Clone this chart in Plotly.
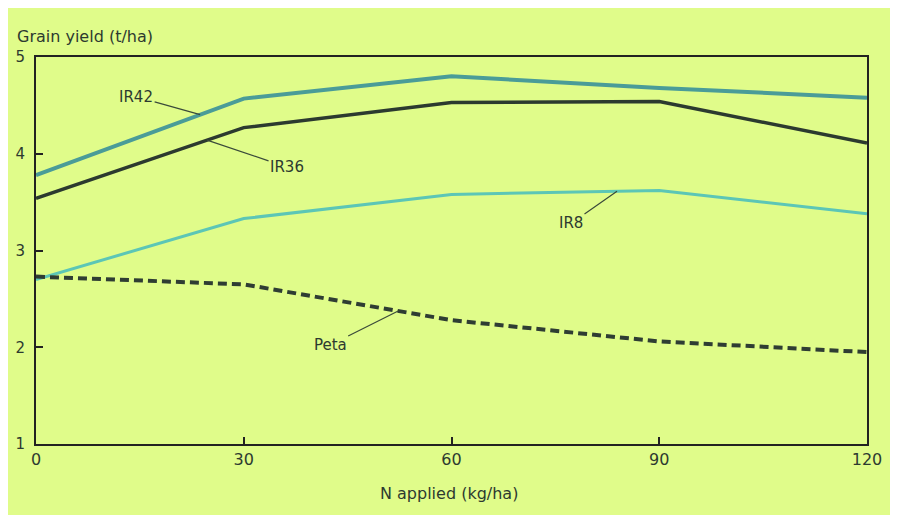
import plotly.graph_objects as go

n_applied = [0, 30, 60, 90, 120]
ir42 = [3.78, 4.57, 4.80, 4.68, 4.58]
ir36 = [3.54, 4.27, 4.53, 4.54, 4.11]
ir8 = [2.70, 3.33, 3.58, 3.62, 3.38]
peta = [2.73, 2.65, 2.28, 2.06, 1.95]

x_ticks = [0, 30, 60, 90, 120]
y_ticks = [1, 2, 3, 4, 5]

BG = "#e0fc8a"
TXT = "#2d3a30"
FONT = "'DejaVu Sans', sans-serif"

fig = go.Figure()
fig.add_trace(go.Scatter(x=n_applied, y=ir42, mode="lines", name="IR42",
                         line=dict(color="#4a9c98", width=4)))
fig.add_trace(go.Scatter(x=n_applied, y=ir36, mode="lines", name="IR36",
                         line=dict(color="#2c3a2f", width=3.5)))
fig.add_trace(go.Scatter(x=n_applied, y=ir8, mode="lines", name="IR8",
                         line=dict(color="#5cc6b6", width=3)))
fig.add_trace(go.Scatter(x=n_applied, y=peta, mode="lines", name="Peta",
                         line=dict(color="#2f3d33", width=4, dash="9px,5px")))


def label(text, x, y, ax, ay):
    fig.add_annotation(x=x, y=y, text=text, showarrow=True, arrowhead=0,
                       arrowwidth=1.2, arrowcolor="#3a4a3a", ax=ax, ay=ay,
                       font=dict(size=15, color=TXT, family=FONT))


def interp(xs, ys, x):
    for i in range(len(xs) - 1):
        if xs[i] <= x <= xs[i + 1]:
            t = (x - xs[i]) / (xs[i + 1] - xs[i])
            return ys[i] + t * (ys[i + 1] - ys[i])
    return ys[-1]


label("IR42", 23.7, interp(n_applied, ir42, 23.7), -64, -18)
label("IR36", 24.7, interp(n_applied, ir36, 24.7), 80, 27)
label("IR8", 83.9, interp(n_applied, ir8, 83.9), -46, 32)
label("Peta", 52.3, interp(n_applied, peta, 52.3), -68, 34)

fig.add_annotation(xref="paper", yref="paper", x=-0.025, y=1.052,
                   xanchor="left", yanchor="middle", showarrow=False,
                   text="Grain yield (t/ha)",
                   font=dict(size=16, color=TXT, family=FONT))
fig.add_annotation(xref="paper", yref="paper", x=0.497, y=-0.129,
                   xanchor="center", yanchor="middle", showarrow=False,
                   text="N applied (kg/ha)",
                   font=dict(size=16, color=TXT, family=FONT))

fig.update_xaxes(range=[0, 120], tickvals=x_ticks, ticks="inside", ticklen=7,
                 tickcolor="#222", tickwidth=1.5, showgrid=False, zeroline=False,
                 showline=True, linecolor="#222", linewidth=2, mirror=True,
                 automargin=False,
                 tickfont=dict(size=16, color=TXT, family=FONT))
fig.update_yaxes(range=[1, 5], tickvals=y_ticks, ticks="inside", ticklen=7,
                 tickcolor="#222", tickwidth=1.5, showgrid=False, zeroline=False,
                 showline=True, linecolor="#222", linewidth=2, mirror=True,
                 ticklabelstandoff=6, automargin=False,
                 tickfont=dict(size=15, color=TXT, family=FONT))

fig.update_layout(width=885, height=507, showlegend=False,
                  paper_bgcolor=BG, plot_bgcolor=BG,
                  margin=dict(l=28, r=26, t=49, b=71))

fig.write_html("out.html")
